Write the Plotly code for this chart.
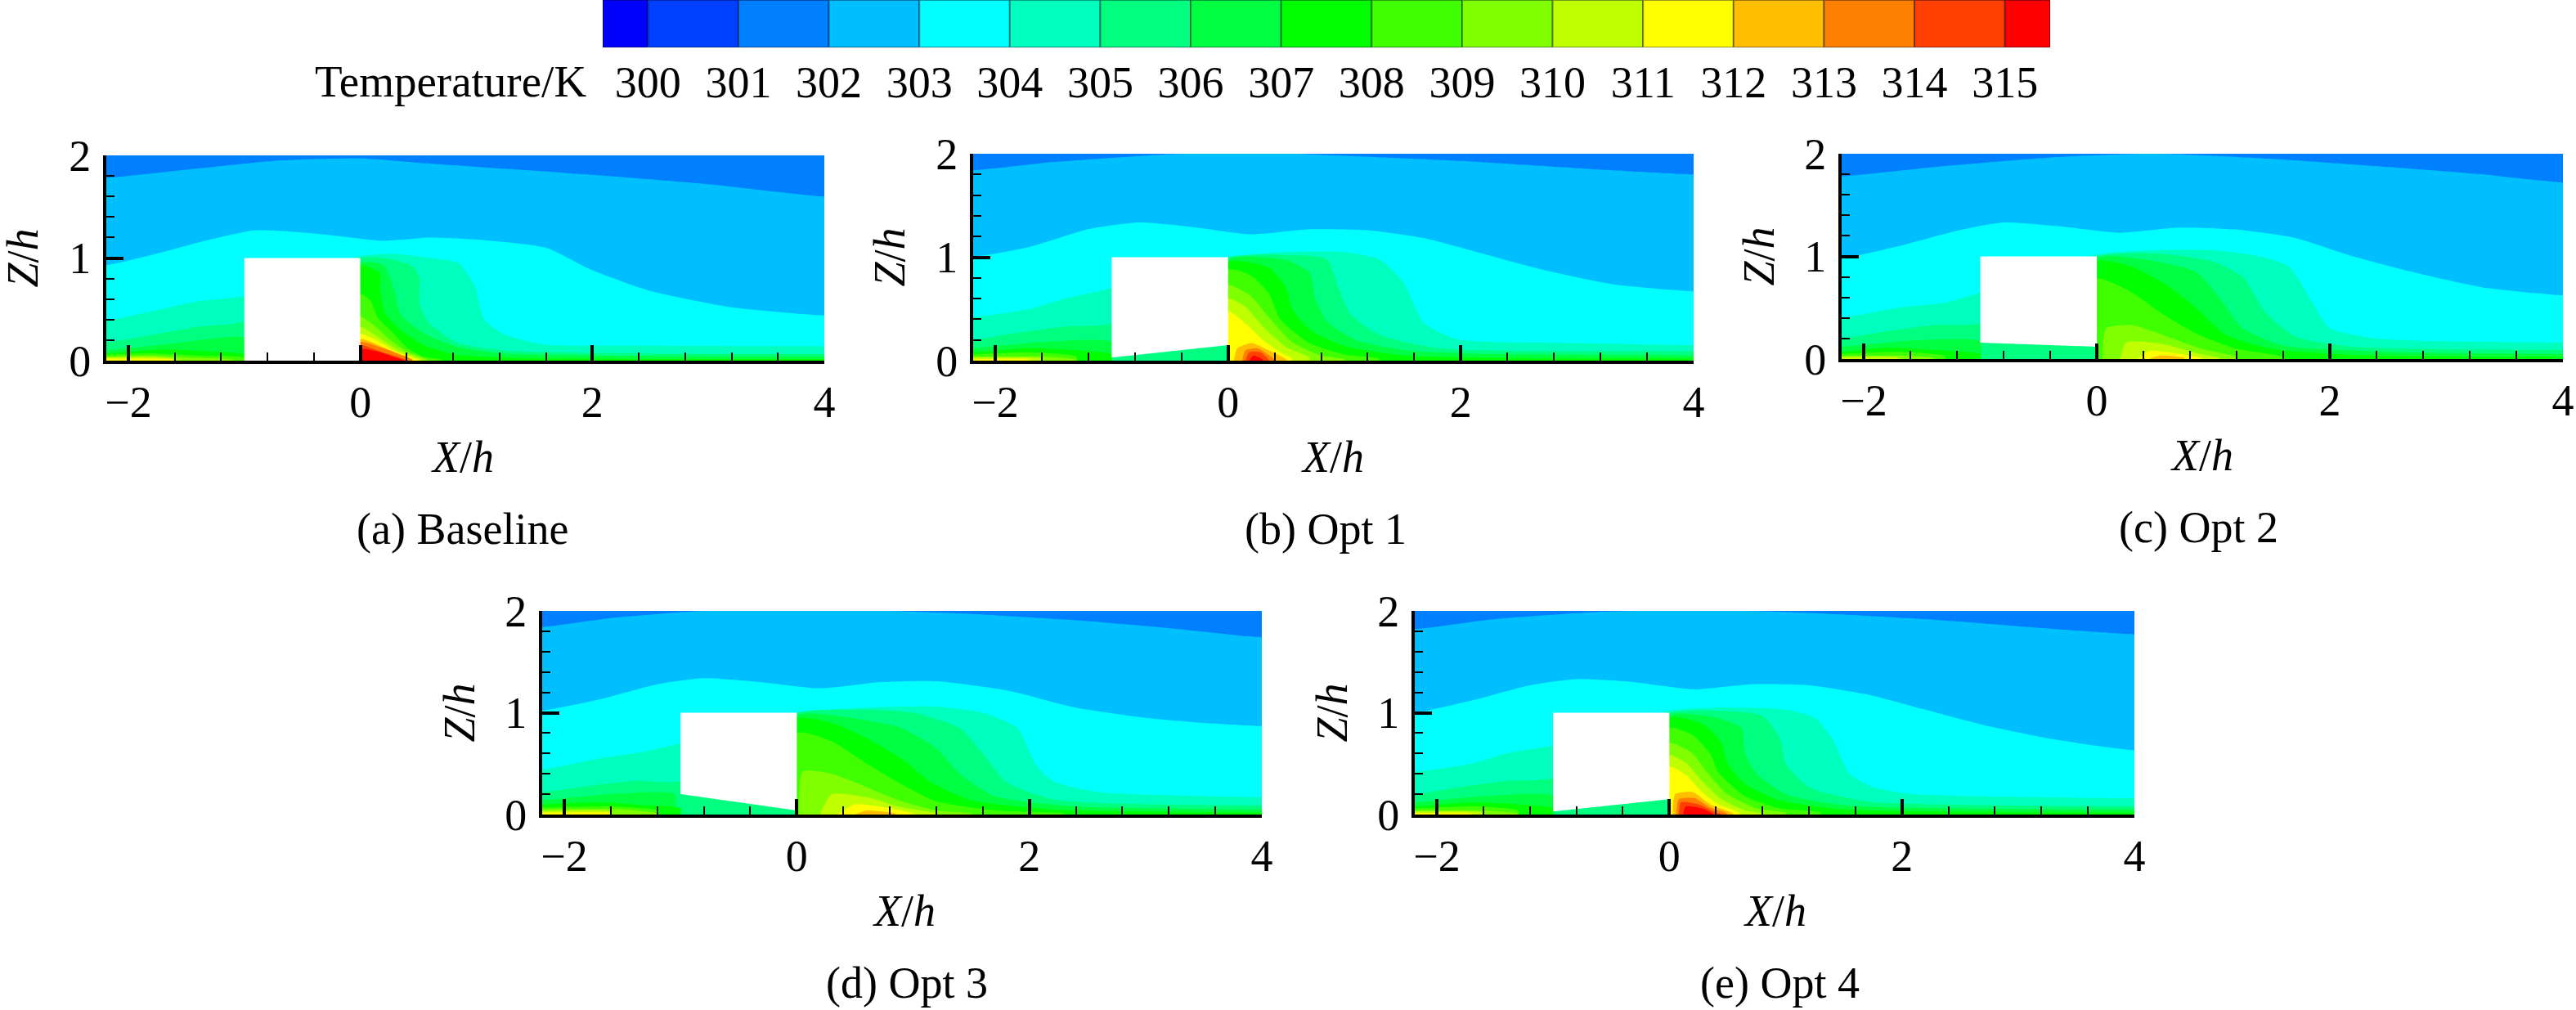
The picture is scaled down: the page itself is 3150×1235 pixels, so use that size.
import plotly.graph_objects as go

W, H = 3150, 1235
FONT = "Liberation Serif"
X_MIN, X_MAX = -2.19, 4

# colour bar: one colour per band, edges in K
BAR_EDGES = [299.5, 300, 301, 302, 303, 304, 305, 306, 307, 308, 309, 310, 311, 312, 313, 314, 315, 315.5]
BAR_COLORS = ["#0000ff", "#0040ff", "#0080ff", "#00bfff", "#00ffff", "#00ffbf", "#00ff80", "#00ff40", "#00ff00",
              "#40ff00", "#80ff00", "#bfff00", "#ffff00", "#ffbf00", "#ff8000", "#ff4000", "#ff0000"]
BAR_TICKS = [300, 301, 302, 303, 304, 305, 306, 307, 308, 309, 310, 311, 312, 313, 314, 315]

# isotherms, (X/h, Z/h); None splits upstream and downstream of the block
TOP = [(-2.2, 2.0), (4, 2.0)]

# (a) Baseline
A_T302 = [(-2.2, 1.78), (-1.5, 1.86), (-0.7, 1.95), (0, 1.97), (0.6, 1.92), (2, 1.81), (3, 1.72), (4, 1.6)]
A_T303 = [(-2.2, 0.93), (-1.8, 1.03), (-1.4, 1.15), (-0.9, 1.27), (-0.4, 1.24), (0.2, 1.17), (0.6, 1.2), (1, 1.18), (1.6, 1.1), (2, 0.88), (2.5, 0.68), (3.2, 0.52), (4, 0.44)]
A_T304 = [(-2.2, 0.39), (-1.8, 0.48), (-1.4, 0.58), (-1, 0.63), (0, 1.02), (0.3, 1.04), (0.6, 1.0), (0.85, 0.95), (0.95, 0.8), (0.99, 0.72), (1.07, 0.4), (1.23, 0.26), (1.57, 0.16), (2.47, 0.145), (4, 0.14)]
A_T305 = [(-2.2, 0.18), (-1.8, 0.25), (-1.4, 0.33), (-1, 0.38), (0, 1.0), (0.25, 0.99), (0.45, 0.92), (0.51, 0.8), (0.51, 0.55), (0.59, 0.37), (0.82, 0.18), (1.23, 0.1), (2.4, 0.07), (4, 0.065)]
A_T306 = [(-2.2, 0.1), (-1.6, 0.17), (-1, 0.22), None, (0, 0.95), (0.2, 0.93), (0.29, 0.7), (0.35, 0.45), (0.54, 0.27), (0.82, 0.14), (1.23, 0.07), (2.4, 0.045), (4, 0.04)]
A_T307 = [(-2.2, 0.07), (-1.7, 0.11), (-1.3, 0.09), (-1, 0.06), None, (0, 0.93), (0.17, 0.85), (0.17, 0.7), (0.22, 0.45), (0.38, 0.27), (0.57, 0.14), (0.82, 0.06), (1.35, 0.025), (4, 0.015)]
A_T308 = [(-2.2, 0.06), (-1.8, 0.07), (-1.4, 0.05), (-1, 0.03), None, (0, 0.65), (0.09, 0.58), (0.15, 0.42), (0.28, 0.27), (0.4, 0.13), (0.54, 0.04), (0.7, 0.01)]
A_T309 = [(-2.2, 0.04), (-1.8, 0.05), (-1.5, 0.03), (-1.1, 0.01), None, (0, 0.43), (0.1, 0.36), (0.24, 0.22), (0.4, 0.09), (0.58, 0.01)]
A_T310 = [(-2.2, 0.03), (-1.8, 0.035), (-1.6, 0.015), None, (0, 0.33), (0.1, 0.27), (0.3, 0.12), (0.53, 0.01)]
A_T311 = [(-2.2, 0.02), (-1.6, 0.01), None, (0, 0.26), (0.2, 0.16), (0.3, 0.09), (0.5, 0.01)]
A_T312 = [(0, 0.21), (0.2, 0.13), (0.42, 0.01)]
A_T313 = [(0, 0.18), (0.2, 0.12), (0.45, 0.01)]
A_T314 = [(0, 0.15), (0.2, 0.08), (0.4, 0.005)]
A_T315 = [(0, 0.11), (0.15, 0.09), (0.28, 0.04), (0.37, 0.005)]

# (b) Opt 1
B_T302 = [(-2.2, 1.84), (-1.5, 1.92), (-0.5, 1.995), (0.3, 2.01), (1, 1.98), (2, 1.93), (3, 1.86), (4, 1.8)]
B_T303 = [(-2.2, 1.0), (-1.7, 1.1), (-1.2, 1.27), (-0.76, 1.335), (-0.3, 1.29), (0.2, 1.22), (0.7, 1.27), (1.2, 1.26), (1.7, 1.18), (2.2, 1.03), (2.7, 0.88), (3.3, 0.74), (4, 0.67)]
B_T304 = [(-2.2, 0.42), (-1.7, 0.5), (-1.4, 0.6), (-1, 0.7), (0, 1.0), (0.5, 1.05), (1, 1.05), (1.3, 0.98), (1.5, 0.77), (1.68, 0.37), (1.96, 0.21), (3, 0.17), (4, 0.15)]
B_T305 = [(-2.2, 0.2), (-1.8, 0.27), (-1.4, 0.33), (-1, 0.36), (0, 1.0), (0.5, 1.02), (0.85, 0.98), (0.95, 0.7), (1.05, 0.45), (1.3, 0.25), (1.8, 0.12), (4, 0.09)]
B_T306 = [(-2.2, 0.12), (-1.6, 0.18), (-1, 0.18), None, (0, 0.97), (0.5, 0.97), (0.7, 0.85), (0.75, 0.6), (0.85, 0.38), (1.1, 0.2), (1.6, 0.09), (4, 0.05)]
B_T307 = [(-2.2, 0.08), (-1.7, 0.12), (-1.3, 0.1), (-1, 0.06), None, (0, 0.95), (0.35, 0.9), (0.5, 0.7), (0.55, 0.5), (0.7, 0.3), (1, 0.14), (1.5, 0.05), (2.5, 0.025), (4, 0.02)]
B_T308 = [(-2.2, 0.06), (-1.7, 0.08), (-1.3, 0.04), None, (0, 0.88), (0.2, 0.82), (0.35, 0.65), (0.45, 0.4), (0.7, 0.17), (1, 0.06), (1.3, 0.02)]
B_T309 = [(-2.2, 0.04), (-1.6, 0.04), (-1.3, 0.01), None, (0, 0.73), (0.2, 0.62), (0.35, 0.42), (0.55, 0.18), (0.8, 0.05), (1, 0.015)]
B_T310 = [(-2.2, 0.03), (-1.6, 0.02), None, (0, 0.6), (0.15, 0.52), (0.3, 0.33), (0.5, 0.13), (0.7, 0.03)]
B_T311 = [(-2.2, 0.015), (-1.7, 0.01), None, (0, 0.48), (0.15, 0.36), (0.3, 0.2), (0.45, 0.08), (0.55, 0.02)]
B_T312 = [(0.05, 0), (0.08, 0.12), (0.2, 0.17), (0.35, 0.1), (0.5, 0.01)]
B_T313 = [(0.12, 0), (0.15, 0.1), (0.25, 0.12), (0.4, 0.01)]
B_T314 = [(0.15, 0), (0.18, 0.08), (0.28, 0.08), (0.35, 0.01)]
B_T315 = [(0.18, 0), (0.22, 0.05), (0.3, 0.01)]

# (c) Opt 2
C_T302 = [(-2.2, 1.78), (-1.3, 1.88), (-0.3, 1.97), (0.5, 2.0), (1.5, 1.95), (2.5, 1.87), (3.3, 1.8), (4, 1.72)]
C_T303 = [(-2.2, 0.98), (-1.7, 1.1), (-1.2, 1.25), (-0.8, 1.33), (-0.3, 1.29), (0.2, 1.23), (0.7, 1.28), (1.2, 1.26), (1.7, 1.18), (2.2, 1.0), (2.7, 0.85), (3.3, 0.7), (4, 0.62)]
C_T304 = [(-2.2, 0.4), (-1.7, 0.5), (-1.3, 0.55), (-1, 0.65), (0, 1.02), (0.5, 1.06), (1, 1.06), (1.4, 1.0), (1.65, 0.9), (1.85, 0.55), (2.0, 0.3), (2.4, 0.2), (4, 0.16)]
C_T305 = [(-2.2, 0.2), (-1.8, 0.27), (-1.4, 0.33), (-1, 0.35), (0, 1.0), (0.5, 1.03), (1, 0.95), (1.25, 0.8), (1.45, 0.45), (1.7, 0.22), (2.2, 0.12), (4, 0.09)]
C_T306 = [(-2.2, 0.12), (-1.6, 0.18), (-1, 0.17), None, (0, 0.98), (0.4, 0.97), (0.85, 0.85), (1.05, 0.6), (1.25, 0.3), (1.6, 0.13), (2.5, 0.07), (4, 0.05)]
C_T307 = [(-2.2, 0.07), (-1.8, 0.11), (-1.3, 0.08), (-1, 0.05), None, (0, 0.95), (0.3, 0.9), (0.6, 0.72), (0.85, 0.5), (1.1, 0.24), (1.5, 0.1), (2.2, 0.04), (4, 0.02)]
C_T308 = [(-2.2, 0.05), (-1.7, 0.07), (-1.3, 0.03), None, (0, 0.78), (0.3, 0.65), (0.55, 0.45), (0.85, 0.25), (1.2, 0.1), (1.6, 0.02)]
C_T309 = [(-2.2, 0.03), (-1.6, 0.03), (-1.4, 0.01), None, (0.05, 0), (0.08, 0.3), (0.3, 0.33), (0.6, 0.22), (0.9, 0.1), (1.2, 0.02)]
C_T310 = [(-2.2, 0.02), (-1.7, 0.015), None, (0.2, 0), (0.25, 0.16), (0.55, 0.15), (0.85, 0.06), (1.05, 0.01)]
C_T311 = [(0.35, 0), (0.45, 0.08), (0.65, 0.06), (0.9, 0.01)]
C_T312 = [(0.45, 0), (0.55, 0.035), (0.75, 0.01)]

# (d) Opt 3
D_T302 = [(-2.2, 1.84), (-1.6, 1.93), (-0.8, 2.0), (0.5, 2.01), (1.5, 1.97), (2.5, 1.9), (3.3, 1.82), (4, 1.74)]
D_T303 = [(-2.2, 1.02), (-1.7, 1.13), (-1.2, 1.28), (-0.8, 1.34), (-0.3, 1.3), (0.2, 1.24), (0.7, 1.3), (1.2, 1.31), (1.8, 1.22), (2.4, 1.05), (3, 0.95), (3.5, 0.9), (4, 0.87)]
D_T304 = [(-2.2, 0.44), (-1.7, 0.55), (-1.3, 0.62), (-1, 0.7), (0, 1.0), (0.6, 1.05), (1.2, 1.06), (1.6, 1.0), (1.9, 0.85), (2.05, 0.5), (2.2, 0.33), (2.6, 0.22), (4, 0.17)]
D_T305 = [(-2.2, 0.22), (-1.8, 0.28), (-1.4, 0.33), (-1, 0.33), (0, 1.0), (0.5, 1.03), (1, 1.0), (1.4, 0.85), (1.6, 0.6), (1.8, 0.32), (2.2, 0.15), (3, 0.1), (4, 0.09)]
D_T306 = [(-2.2, 0.14), (-1.6, 0.2), (-1.05, 0.2), None, (0, 0.97), (0.4, 0.96), (0.9, 0.85), (1.2, 0.65), (1.4, 0.4), (1.7, 0.18), (2.4, 0.08), (4, 0.05)]
D_T307 = [(-2.2, 0.1), (-1.7, 0.12), (-1.3, 0.09), (-1, 0.06), None, (0, 0.94), (0.3, 0.9), (0.6, 0.75), (0.9, 0.55), (1.15, 0.32), (1.5, 0.14), (2.2, 0.05), (4, 0.02)]
D_T308 = [(-2.2, 0.07), (-1.6, 0.08), (-1.2, 0.04), None, (0, 0.8), (0.3, 0.72), (0.6, 0.5), (0.9, 0.3), (1.2, 0.13), (1.7, 0.04), (2.3, 0.01)]
D_T309 = [(-2.2, 0.05), (-1.5, 0.05), (-1.2, 0.01), None, (0.02, 0), (0.05, 0.42), (0.3, 0.4), (0.6, 0.27), (0.9, 0.13), (1.2, 0.04), (1.5, 0.01)]
D_T310 = [(-2.2, 0.035), (-1.6, 0.03), None, (0.2, 0), (0.3, 0.2), (0.6, 0.17), (0.9, 0.07), (1.2, 0.01)]
D_T311 = [(-2.2, 0.02), (-1.6, 0.015), None, (0.35, 0), (0.5, 0.1), (0.7, 0.08), (1, 0.01)]
D_T312 = [(0.5, 0), (0.6, 0.04), (0.85, 0.01)]

# (e) Opt 4
E_T302 = [(-2.2, 1.82), (-1.5, 1.92), (-0.6, 1.99), (0.3, 2.01), (1.2, 1.98), (2.2, 1.92), (3, 1.85), (4, 1.77)]
E_T303 = [(-2.2, 1.0), (-1.7, 1.12), (-1.2, 1.27), (-0.8, 1.33), (-0.3, 1.3), (0.2, 1.23), (0.7, 1.28), (1.2, 1.27), (1.7, 1.18), (2.2, 1.03), (2.7, 0.88), (3.3, 0.74), (4, 0.63)]
E_T304 = [(-2.2, 0.42), (-1.7, 0.5), (-1.4, 0.6), (-1, 0.68), (0, 1.02), (0.5, 1.05), (1, 1.03), (1.25, 0.95), (1.4, 0.75), (1.55, 0.4), (1.75, 0.27), (2.1, 0.2), (4, 0.16)]
E_T305 = [(-2.2, 0.2), (-1.8, 0.27), (-1.4, 0.33), (-1, 0.36), (0, 1.0), (0.4, 1.02), (0.8, 0.97), (0.95, 0.75), (1.0, 0.5), (1.2, 0.27), (1.7, 0.13), (4, 0.08)]
E_T306 = [(-2.2, 0.12), (-1.6, 0.18), (-1, 0.18), None, (0, 0.97), (0.4, 0.95), (0.62, 0.85), (0.65, 0.6), (0.75, 0.4), (1.0, 0.2), (1.5, 0.09), (4, 0.05)]
E_T307 = [(-2.2, 0.08), (-1.7, 0.12), (-1.3, 0.1), (-1, 0.06), None, (0, 0.95), (0.3, 0.88), (0.45, 0.7), (0.5, 0.5), (0.65, 0.3), (0.95, 0.14), (1.5, 0.05), (4, 0.02)]
E_T308 = [(-2.2, 0.06), (-1.7, 0.08), (-1.3, 0.04), None, (0, 0.85), (0.2, 0.78), (0.35, 0.6), (0.42, 0.42), (0.65, 0.18), (0.95, 0.06), (1.3, 0.02)]
E_T309 = [(-2.2, 0.04), (-1.6, 0.04), (-1.3, 0.01), None, (0, 0.7), (0.2, 0.6), (0.32, 0.42), (0.5, 0.2), (0.75, 0.06), (1, 0.015)]
E_T310 = [(-2.2, 0.03), (-1.6, 0.02), None, (0, 0.58), (0.15, 0.5), (0.28, 0.33), (0.45, 0.15), (0.65, 0.04), (0.8, 0.01)]
E_T311 = [(-2.2, 0.015), (-1.7, 0.01), None, (0, 0.47), (0.15, 0.38), (0.28, 0.22), (0.42, 0.1), (0.6, 0.02)]
E_T312 = [(0.03, 0), (0.05, 0.2), (0.2, 0.22), (0.35, 0.1), (0.55, 0.01)]
E_T313 = [(0.06, 0), (0.08, 0.15), (0.22, 0.16), (0.35, 0.07), (0.5, 0.01)]
E_T314 = [(0.08, 0), (0.1, 0.12), (0.25, 0.1), (0.4, 0.02), (0.45, 0.005)]
E_T315 = [(0.12, 0), (0.14, 0.08), (0.28, 0.06), (0.38, 0.005)]

# the block outline of each case
A_BLOCK = [(-1, 1), (0, 1), (0, 0), (-1, 0)]
B_BLOCK = [(-1, 1), (0, 1), (0, 0.15), (-1, 0.03)]
C_BLOCK = [(-1, 1), (0, 1), (0, 0.12), (-1, 0.16)]
D_BLOCK = [(-1, 1), (0, 1), (0, 0.04), (-1, 0.2)]
E_BLOCK = [(-1, 1), (0, 1), (0, 0.15), (-1, 0.03)]

# colours from 301 K up, matching the order of the isotherm lists below
BAND_COLORS = BAR_COLORS[2:]

# caption, block, isotherms, plot box in pixels (left, right, top, bottom), x of X/h, x of caption
panels = [
    ("(a) Baseline", A_BLOCK, [TOP, A_T302, A_T303, A_T304, A_T305, A_T306, A_T307, A_T308, A_T309, A_T310, A_T311, A_T312, A_T313, A_T314, A_T315],
     (130, 1008, 190, 441), 565, 565),
    ("(b) Opt 1", B_BLOCK, [TOP, B_T302, B_T303, B_T304, B_T305, B_T306, B_T307, B_T308, B_T309, B_T310, B_T311, B_T312, B_T313, B_T314, B_T315],
     (1190, 2071, 188, 441), 1629, 1621),
    ("(c) Opt 2", C_BLOCK, [TOP, C_T302, C_T303, C_T304, C_T305, C_T306, C_T307, C_T308, C_T309, C_T310, C_T311, C_T312],
     (2252, 3134, 188, 439), 2692, 2688),
    ("(d) Opt 3", D_BLOCK, [TOP, D_T302, D_T303, D_T304, D_T305, D_T306, D_T307, D_T308, D_T309, D_T310, D_T311, D_T312],
     (663, 1543, 747, 996), 1105, 1109),
    ("(e) Opt 4", E_BLOCK, [TOP, E_T302, E_T303, E_T304, E_T305, E_T306, E_T307, E_T308, E_T309, E_T310, E_T311, E_T312, E_T313, E_T314, E_T315],
     (1730, 2610, 747, 996), 2170, 2176),
]


def px(x):
    return x / W


def py(y):
    return 1 - y / H


def closed(points):
    # every piece of an isotherm is closed down to the ground
    # pieces touching the plot sides run on past them, so the spline does not bend inside the plot
    xs, zs, piece = [], [], []
    for p in points + [None]:
        if p is None:
            if piece[0][0] <= X_MIN:
                piece.insert(0, (piece[0][0] - 0.6, piece[0][1]))
            if piece[-1][0] >= X_MAX:
                piece.append((piece[-1][0] + 0.6, piece[-1][1]))
            xs += [piece[0][0]] + [q[0] for q in piece] + [piece[-1][0], None]
            zs += [0] + [q[1] for q in piece] + [0, None]
            piece = []
        else:
            piece.append(p)
    return xs, zs


def label(text, x, y, size=54, angle=0):
    fig.add_annotation(text=text, x=px(x), y=py(y), xref="paper", yref="paper", showarrow=False,
                       xanchor="center", yanchor="middle", textangle=angle,
                       font=dict(family=FONT, size=size, color="black"))


fig = go.Figure()

for n, (caption, block, lines, box, xlabel_x, caption_x) in enumerate(panels, start=1):
    left, right, top, bottom = box
    ax = "" if n == 1 else str(n)
    for points, color in zip(lines, BAND_COLORS):
        xs, zs = closed(points)
        fig.add_trace(go.Scatter(x=xs, y=zs, mode="lines", fill="toself", fillcolor=color,
                                 line=dict(width=0, shape="spline", smoothing=0.6),
                                 xaxis="x" + ax, yaxis="y" + ax, showlegend=False, hoverinfo="skip"))
    fig.add_trace(go.Scatter(x=[p[0] for p in block], y=[p[1] for p in block], mode="lines", fill="toself",
                             fillcolor="white", line=dict(width=0), xaxis="x" + ax, yaxis="y" + ax,
                             showlegend=False, hoverinfo="skip"))
    fig.update_layout({
        "xaxis" + ax: dict(domain=[px(left), px(right)], range=[X_MIN, X_MAX], anchor="y" + ax, tick0=0, dtick=2,
                           automargin=False, ticks="inside", ticklen=19, tickwidth=4, tickcolor="black", showline=True,
                           linewidth=4, linecolor="black", showgrid=False, zeroline=False, ticklabelstandoff=0,
                           minor=dict(ticks="inside", ticklen=10, tickwidth=2, tickcolor="black", tick0=0, dtick=0.4,
                                      showgrid=False),
                           tickfont=dict(family=FONT, size=54, color="black")),
        "yaxis" + ax: dict(domain=[py(bottom), py(top)], range=[0, 2], anchor="x" + ax, tick0=0, dtick=1,
                           automargin=False, ticks="inside", ticklen=21, tickwidth=4, tickcolor="black", showline=True,
                           linewidth=4, linecolor="black", showgrid=False, zeroline=False, ticklabelstandoff=4,
                           minor=dict(ticks="inside", ticklen=10, tickwidth=2, tickcolor="black", tick0=0, dtick=0.2,
                                      showgrid=False),
                           tickfont=dict(family=FONT, size=54, color="black")),
    })
    label("<i>X</i>/<i>h</i>", xlabel_x, bottom + 118)
    label("<i>Z</i>/<i>h</i>", left - 102, (top + bottom) / 2, angle=-90)
    label(caption, caption_x, bottom + 206)

# colour bar along the top
fig.add_trace(go.Bar(x=[b - a for a, b in zip(BAR_EDGES, BAR_EDGES[1:])], base=BAR_EDGES[:-1], y=[0] * len(BAR_COLORS),
                     orientation="h", width=1, marker=dict(color=BAR_COLORS, line=dict(color="rgba(0,0,40,0.4)", width=2)),
                     xaxis="x6", yaxis="y6", showlegend=False, hoverinfo="skip"))
fig.update_layout(
    xaxis6=dict(domain=[px(737), px(2507)], range=[299.5, 315.5], anchor="y6", tickmode="array", tickvals=BAR_TICKS,
                automargin=False, ticks="", showgrid=False, zeroline=False, showline=False, ticklabelstandoff=6,
                tickfont=dict(family=FONT, size=54, color="black")),
    yaxis6=dict(domain=[py(58), 1], range=[-0.5, 0.5], anchor="x6", visible=False),
    barmode="overlay",
    width=W,
    height=H,
    margin=dict(l=0, r=0, t=0, b=0),
    paper_bgcolor="white",
    plot_bgcolor="white",
)
label("Temperature/K", 551, 99, size=55)

# the page's default body margin would push everything 8 px off
fig.write_html("out.html", config={"displayModeBar": False}, post_script="document.body.style.margin = '0';")
